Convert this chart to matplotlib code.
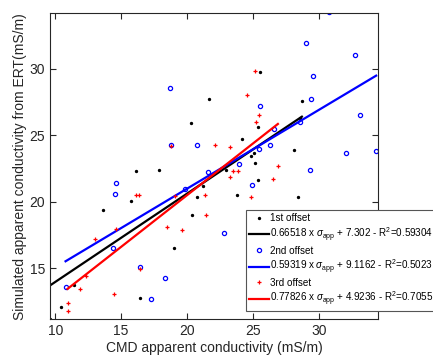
import matplotlib
matplotlib.use("Agg")
import matplotlib.pyplot as plt
import numpy as np

plt.rcParams["font.family"] = ["Liberation Sans", "DejaVu Sans"]
plt.rcParams["mathtext.fontset"] = "custom"
plt.rcParams["mathtext.rm"] = "Liberation Sans"
plt.rcParams["mathtext.it"] = "Liberation Sans:italic"

# ---- data ----
x1 = [9.6, 10.43, 11.41, 13.65, 15.72, 16.10, 16.40, 17.86, 18.99, 20.28, 20.35,
      20.73, 21.23, 21.64, 22.95, 23.78, 24.16, 24.89, 25.11, 25.16, 25.36, 25.42,
      25.52, 28.11, 28.39, 28.72, 28.6]
y1 = [11.16, 12.03, 13.72, 19.40, 20.03, 22.34, 12.71, 22.41, 16.51, 25.93, 19.0,
      20.33, 21.16, 27.71, 22.41, 20.5, 24.7, 23.44, 23.64, 22.94, 21.6, 25.6,
      29.75, 23.9, 20.33, 27.56, 26.3]

x2 = [10.78, 14.36, 14.56, 14.63, 16.40, 17.23, 18.36, 18.72, 18.79, 19.85, 20.73,
      21.56, 22.82, 23.95, 24.91, 25.47, 25.54, 26.27, 26.62, 28.6, 29.07, 29.42,
      29.32, 29.57, 30.81, 32.07, 32.77, 33.10, 34.36]
y2 = [13.54, 16.53, 20.6, 21.43, 15.05, 12.64, 14.25, 28.59, 24.30, 20.98, 24.25,
      22.26, 17.61, 22.86, 21.23, 23.99, 27.19, 24.30, 25.45, 26.03, 31.96, 27.71,
      22.36, 29.47, 34.27, 23.67, 31.08, 26.51, 23.84]

x3 = [10.93, 10.93, 11.86, 12.37, 13.05, 14.43, 14.58, 16.15, 16.35, 16.45, 18.49,
      18.82, 19.09, 19.65, 21.36, 21.46, 22.12, 23.25, 23.27, 23.48, 23.88, 24.53,
      24.89, 25.19, 25.24, 25.47, 26.55, 26.9]
y3 = [11.73, 12.36, 13.42, 14.42, 17.21, 13.07, 17.96, 20.53, 20.48, 14.92, 18.12,
      24.17, 20.45, 17.86, 20.48, 19.02, 24.27, 21.83, 24.12, 22.34, 22.29, 28.02,
      20.35, 29.85, 25.98, 26.51, 21.71, 22.71]

# fit coefficients from the legend
fits = [(0.66518, 7.302, 0.59304), (0.59319, 9.1162, 0.5023), (0.77826, 4.9236, 0.7055)]
names = ["1st offset", "2nd offset", "3rd offset"]

# ---- figure ----
fig = plt.figure(figsize=(4.33, 3.64), dpi=100)
ax = fig.add_axes([0.1155, 0.1236, 0.7575, 0.84])

series = [(x1, y1, "k", dict(marker=".", markersize=2.8)),
          (x2, y2, "#0000ff", dict(marker="o", markersize=3, markerfacecolor="none", markeredgewidth=0.9)),
          (x3, y3, "#ff0000", dict(marker="+", markersize=3.5, markeredgewidth=0.9))]

for (xs, ys, c, mk), (a, b, r2), name in zip(series, fits, names):
    ax.plot(xs, ys, linestyle="none", color=c, label=name, **mk)
    xl = np.array([min(xs), max(xs)])
    ax.plot(xl, a * xl + b, color=c, lw=1.6,
            label=f"{a} x $\\sigma_{{\\rm app}}$ + {b} - R$^2$={r2}")

ax.set_xlim(9.6, 34.5)
ax.set_ylim(11.16, 34.2)
ax.set_xticks([10, 15, 20, 25, 30])
ax.set_yticks([15, 20, 25, 30])
ax.tick_params(direction="in", top=True, right=True, labelsize=10,
               colors="#262626", length=4)
for s in ax.spines.values():
    s.set_color("#262626")
    s.set_linewidth(0.8)

ax.set_xlabel("CMD apparent conductivity (mS/m)", fontsize=10, color="#262626", labelpad=2)
ax.set_ylabel("Simulated apparent conductivity from ERT(mS/m)", fontsize=10,
              color="#262626", labelpad=2)

leg = fig.legend(*ax.get_legend_handles_labels(), loc="upper left",
                 bbox_to_anchor=(0.567, 0.423), fontsize=7.1, numpoints=1,
                 handlelength=2.0, handletextpad=0.15, labelspacing=0.2,
                 borderaxespad=0, fancybox=False, framealpha=1,
                 edgecolor="#555555", borderpad=0.35)
leg.get_frame().set_linewidth(0.8)

fig.savefig("out.png", dpi=100)
